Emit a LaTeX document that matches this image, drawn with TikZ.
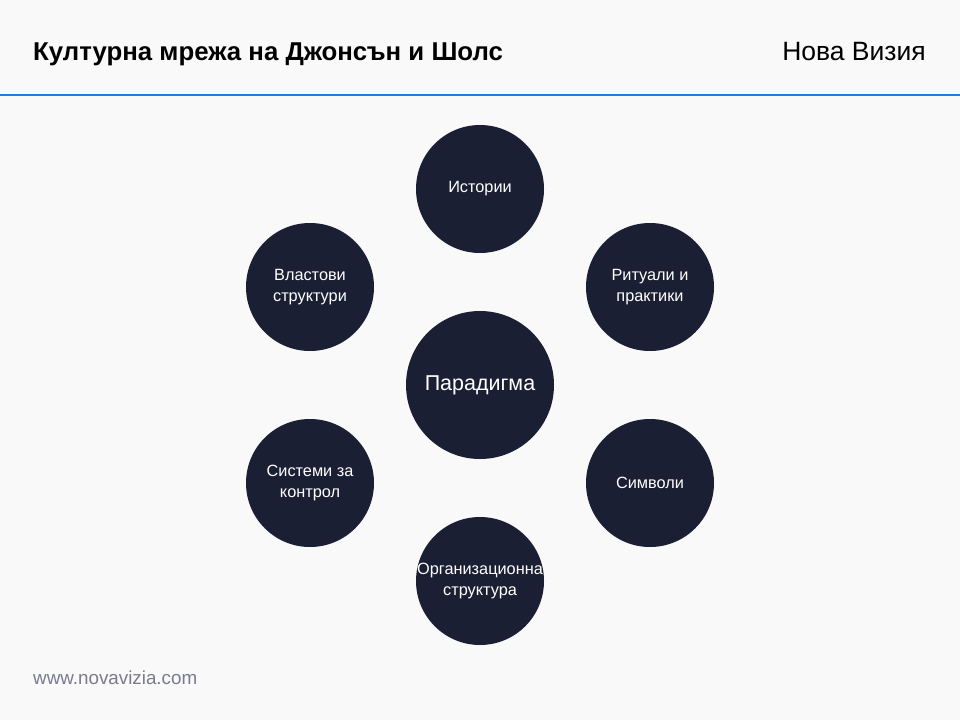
\documentclass[tikz,border=0pt]{standalone}
\usepackage{fontspec}
\setmainfont{Liberation Sans}
\definecolor{pagebg}{RGB}{249, 249, 249}
\definecolor{navy1}{RGB}{27, 31, 51}
\definecolor{lineblue}{RGB}{38, 120, 233}
\definecolor{footgray}{RGB}{122, 122, 144}
\usetikzlibrary{positioning, calc}

\tikzset{
  hub/.style={circle, fill=navy1, text=white, minimum size=148pt, inner sep=0pt, align=center, font=\fontsize{21.5}{26}\selectfont},
  spoke/.style={circle, fill=navy1, text=white, minimum size=128pt, inner sep=-10pt, align=center, font=\fontsize{16.3}{21}\selectfont}
}

\begin{document}
\begin{tikzpicture}[x=1pt, y=-1pt]
  % Page and header
  \fill[pagebg] (0,0) rectangle (960,720);
  \useasboundingbox (0,0) rectangle (960,720);
  \draw[lineblue, line width=2pt] (0,95) -- (960,95);
  \node[anchor=base west, font=\bfseries\fontsize{25.8}{30}\selectfont, inner sep=0pt] (title) at (33,60) {Културна мрежа на Джонсън и Шолс};
  \node[anchor=base east, font=\fontsize{26.5}{30}\selectfont, inner sep=0pt] (brand) at (926,60) {Нова Визия};

  % Central paradigm
  \node[hub] (paradigm) at (480,385) {Парадигма};

  % Six elements around it
  \node[spoke] (stories) at ($(paradigm)+(0,-196)$) {Истории};
  \node[spoke] (rituals) at ($(paradigm)+(170,-98)$) {Ритуали и\\практики};
  \node[spoke] (symbols) at ($(paradigm)+(170,98)$) {Символи};
  \node[spoke] (orgstruct) at ($(paradigm)+(0,196)$) {Организационна\\структура};
  \node[spoke] (controls) at ($(paradigm)+(-170,98)$) {Системи за\\контрол};
  \node[spoke] (power) at ($(paradigm)+(-170,-98)$) {Властови\\структури};

  % Footer
  \node[anchor=base west, text=footgray, font=\fontsize{18.8}{22}\selectfont, inner sep=0pt] (site) at (33,684) {www.novavizia.com};
\end{tikzpicture}
\end{document}
